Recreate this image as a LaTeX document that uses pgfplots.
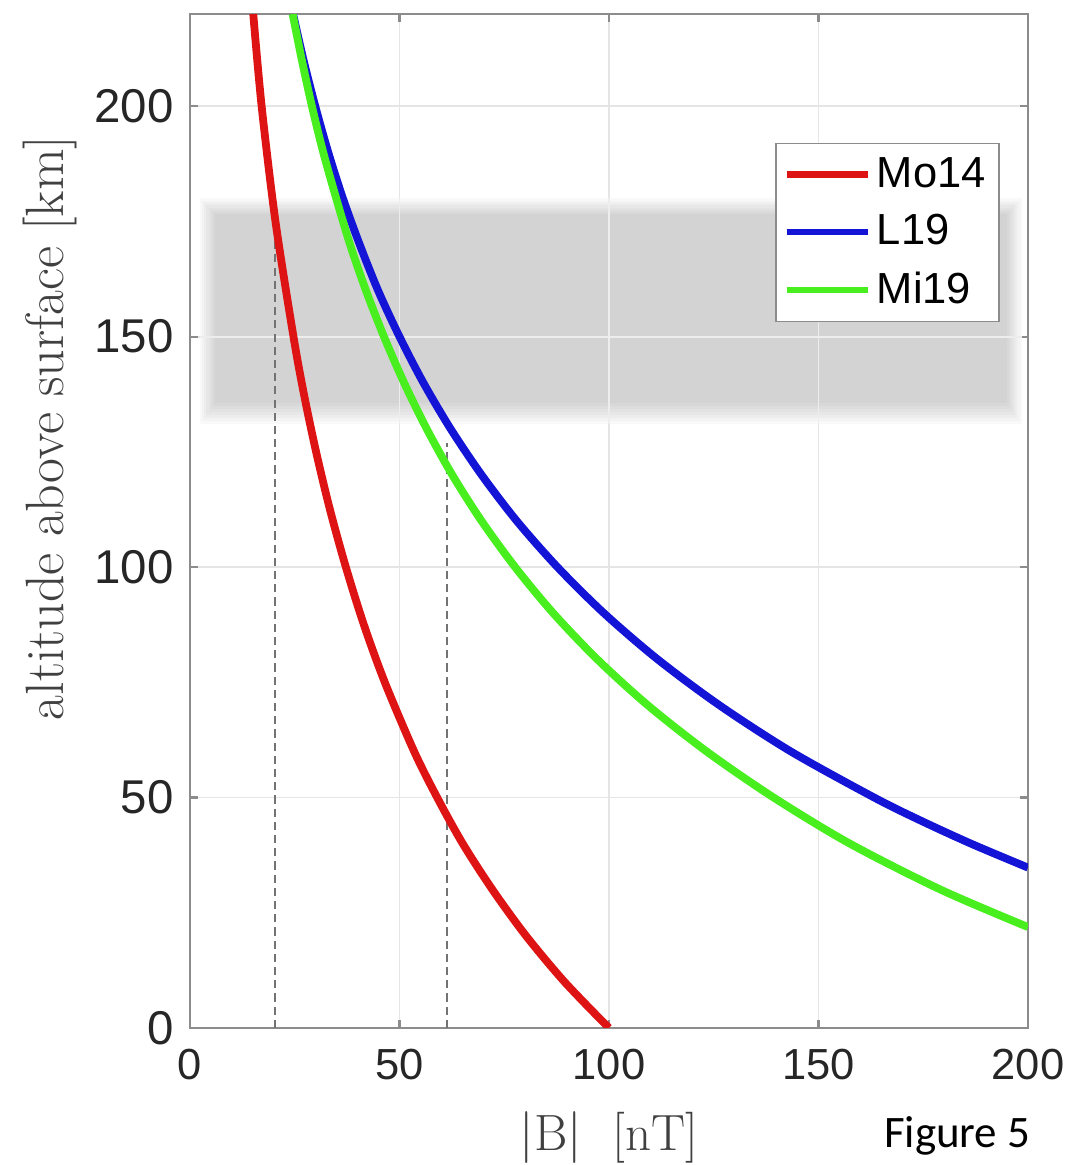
\documentclass[border=0pt]{standalone}
\usepackage{fontspec}
\usepackage{pgfplots}
\pgfplotsset{compat=1.18}
\newfontfamily\helv{Liberation Sans}
\newfontfamily\calib{Carlito}
\definecolor{cRed}{RGB}{222,20,20}
\definecolor{cBlue}{RGB}{20,20,215}
\definecolor{cGreen}{RGB}{72,238,30}
\begin{document}
\begin{tikzpicture}
\useasboundingbox (-63.33pt,-45.67pt) rectangle (293.67pt,342.67pt);
\begin{axis}[
  at={(0,0)}, anchor=south west,
  scale only axis, width=279.33pt, height=338pt,
  xmin=0, xmax=200, ymin=0, ymax=220,
  xtick={0,50,100,150,200}, ytick={0,50,100,150,200},
  grid=major, major grid style={black!10, line width=0.6pt},
  axis line style={black!45, line width=0.7pt},
  tick style={black!45, line width=0.7pt}, major tick length=2.7pt, tick align=inside,
  /pgf/number format/assume math mode=true,
  xticklabel style={font=\helv\fontsize{14.5}{17}\selectfont, text=black!85, yshift=-3.5pt},
  yticklabel style={font=\helv\fontsize{15.8}{18}\selectfont, text=black!85, xshift=-1.9pt},
  xlabel={$|$B$|$\ \ [nT]},
  ylabel={altitude above surface [km]},
  every axis x label/.style={at={(rel axis cs:0.5,-0.1204)}, anchor=base, font=\fontsize{17}{20}\selectfont, text=black!75},
  every axis y label/.style={at={(rel axis cs:-0.1672,0.5917)}, anchor=center, rotate=90, font=\fontsize{18}{21}\selectfont, text=black!75},
  legend style={at={(0.9666,0.8728)}, anchor=north east, draw=black!45, line width=0.5pt,
    font=\helv\fontsize{14.5}{17}\selectfont, row sep=3.6pt, inner xsep=2.5pt, inner ysep=2.5pt},
  legend cell align=left,
  legend image code/.code={\draw[#1, line width=2.2pt] (0pt,0pt) -- (27pt,0pt);},
]
% shaded altitude band with soft edges
\addplot[draw=none, fill=black, fill opacity=0.024, forget plot] coordinates {(2.4,131.0) (198.5,131.0) (198.5,180.0) (2.4,180.0)};
\addplot[draw=none, fill=black, fill opacity=0.024, forget plot] coordinates {(2.9,131.6) (198.0,131.6) (198.0,179.5) (2.9,179.5)};
\addplot[draw=none, fill=black, fill opacity=0.024, forget plot] coordinates {(3.4,132.3) (197.5,132.3) (197.5,179.0) (3.4,179.0)};
\addplot[draw=none, fill=black, fill opacity=0.024, forget plot] coordinates {(3.9,132.9) (197.0,132.9) (197.0,178.5) (3.9,178.5)};
\addplot[draw=none, fill=black, fill opacity=0.024, forget plot] coordinates {(4.5,133.6) (196.4,133.6) (196.4,178.0) (4.5,178.0)};
\addplot[draw=none, fill=black, fill opacity=0.024, forget plot] coordinates {(5.0,134.2) (195.9,134.2) (195.9,177.5) (5.0,177.5)};
\addplot[draw=none, fill=black, fill opacity=0.024, forget plot] coordinates {(5.5,134.9) (195.4,134.9) (195.4,177.0) (5.5,177.0)};
\addplot[draw=none, fill=black, fill opacity=0.024, forget plot] coordinates {(6.0,135.5) (194.9,135.5) (194.9,176.5) (6.0,176.5)};
% grid lines showing through the band
\addplot[black!7, line width=0.6pt, forget plot] coordinates {(50,131) (50,180)};
\addplot[black!7, line width=0.6pt, forget plot] coordinates {(100,131) (100,180)};
\addplot[black!7, line width=0.6pt, forget plot] coordinates {(150,131) (150,180)};
\addplot[black!7, line width=0.6pt, forget plot] coordinates {(2.4,150) (198.5,150)};
% dashed guides
\addplot[black!55, dash pattern=on 2.7pt off 1.7pt, line width=0.6pt, forget plot] coordinates {(20.3,0) (20.3,173)};
\addplot[black!55, dash pattern=on 2.7pt off 1.7pt, line width=0.6pt, forget plot] coordinates {(61.4,0) (61.4,127)};
% curves
\addplot[cRed, line width=2.6pt, smooth] coordinates {
(15.1,220) (17.1,200) (20.4,175) (24.7,150) (27.2,137.5) (30.1,125) (33.4,112.5) (37.2,100) (41.5,87.5) (46.5,75) (53.5,60) (59.0,50) (65.1,40) (72.2,30) (80.2,20) (89.4,10) (100,0)};
\addlegendentry{Mo14}
\addplot[cBlue, line width=2.6pt, smooth] coordinates {
(24.6,220) (27.1,210) (29.9,200) (33.0,190) (36.5,180) (40.5,170) (44.9,160) (50.0,150) (55.7,140) (62.2,130) (69.6,120) (78.0,110) (87.7,100) (98.8,90) (111.6,80) (126.4,70) (143.4,60) (163.3,50) (174.4,45) (186.4,40) (200,34.8)};
\addlegendentry{L19}
\addplot[cGreen, line width=2.6pt, smooth] coordinates {
(24.5,220) (26.7,210) (29.1,200) (31.8,190) (34.9,180) (38.2,170) (42.0,160) (46.3,150) (51.1,140) (56.5,130) (62.6,120) (69.6,110) (77.6,100) (86.7,90) (97.2,80) (109.3,70) (123.3,60) (139.3,50) (157.5,40) (179.2,30) (200,21.9)};
\addlegendentry{Mi19}
\end{axis}
\node[anchor=base east, inner sep=0pt, font=\calib\fontsize{15}{18}\selectfont] at (280.33pt,-39.67pt) {Figure 5};
\end{tikzpicture}
\end{document}
